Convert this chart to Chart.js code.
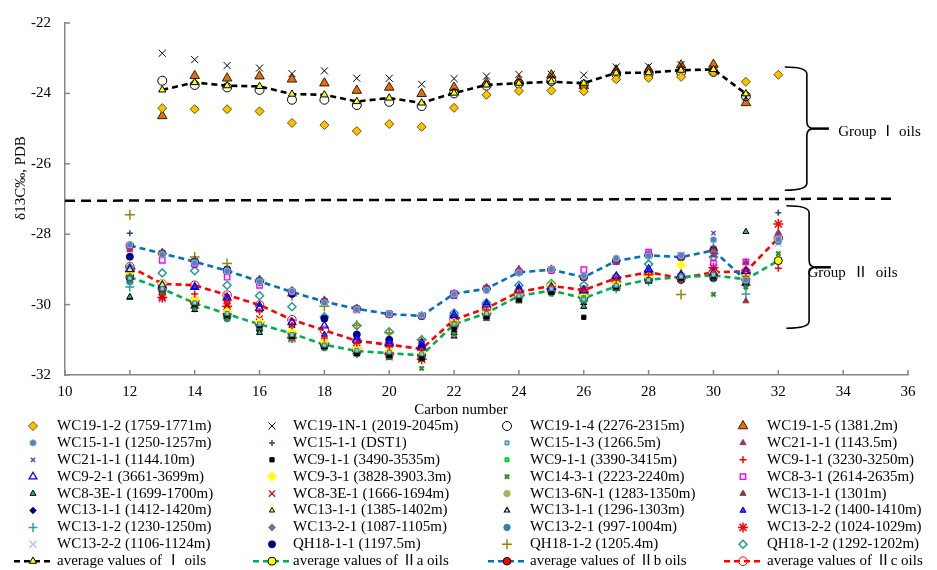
<!DOCTYPE html>
<html>
<head>
<meta charset="utf-8">
<script src="https://cdn.jsdelivr.net/npm/chart.js@4.4.0/dist/chart.umd.min.js"></script>
<style>
  html, body { margin: 0; padding: 0; background: #fff; }
</style>
</head>
<body>
<canvas id="carbonChart" width="937" height="570"></canvas>
<script>
// carbon numbers on the x axis
const carbonNumbers = [12, 13, 14, 15, 16, 17, 18, 19, 20, 21, 22, 23, 24, 25, 26, 27, 28, 29, 30, 31, 32];
const xTicks = [10, 12, 14, 16, 18, 20, 22, 24, 26, 28, 30, 32, 34, 36];
const yTicks = [-32, -30, -28, -26, -24, -22];

// Group I oils
const wc19_1_2   = [null, -24.42, -24.45, -24.45, -24.51, -24.84, -24.90, -25.07, -24.87, -24.95, -24.41, -24.04, -23.93, -23.92, -23.94, -23.60, -23.56, -23.53, -23.40, -23.67, -23.47];
const wc19_1n_1  = [null, -22.86, -23.04, -23.21, -23.28, -23.44, -23.36, -23.57, -23.57, -23.74, -23.58, -23.51, -23.46, -23.46, -23.48, -23.25, -23.23, -23.18, -23.30, -24.10, null];
const wc19_1_4   = [null, -23.64, -23.76, -23.83, -23.90, -24.18, -24.18, -24.33, -24.24, -24.36, -24.00, -23.78, -23.72, -23.65, -23.75, -23.45, -23.45, -23.40, -23.39, -24.08, null];
const wc19_1_5   = [null, -24.64, -23.50, -23.57, -23.51, -23.60, -23.71, -23.92, -23.83, -24.01, -23.83, -23.70, -23.64, -23.48, -23.79, -23.34, -23.32, -23.20, -23.18, -24.27, null];

// Group II oils
const wc15_1_1a  = [-28.30, -28.58, -28.82, -29.05, -29.35, -29.62, -29.95, -30.14, -30.26, -30.30, -29.70, -29.60, -29.10, -29.00, -29.18, -28.68, -28.62, -28.60, -28.16, -29.30, -28.15];
const wc15_1_1b  = [-27.97, -28.50, -28.70, -29.00, -29.25, -29.62, -29.90, -30.10, -30.28, -30.33, -29.70, -29.55, -29.10, -29.00, -29.20, -28.75, -28.60, -28.62, -28.35, -29.35, -27.39];
const wc15_1_3   = [-29.25, -29.55, -29.95, -30.25, -30.55, -30.85, -31.15, -31.30, -31.35, -31.40, -30.55, -30.25, -29.75, -29.55, -29.85, -29.45, -29.30, -29.20, -29.15, -29.30, null];
const wc21_1_1a  = [-28.45, -28.50, -28.80, -29.00, -29.30, -29.60, -29.85, -30.10, -30.30, -30.35, -29.78, -29.50, -28.98, -28.97, -29.25, -28.80, -28.62, -28.65, -28.60, -28.80, -27.95];
const wc21_1_1b  = [-28.40, -28.55, -28.80, -29.05, -29.35, -29.65, -29.90, -30.13, -30.27, -30.32, -29.72, -29.55, -29.05, -29.00, -29.25, -28.80, -28.60, -28.68, -27.97, -29.35, null];
const wc9_1_1a   = [-29.25, -29.55, -30.00, -30.30, -30.60, -30.90, -31.20, -31.40, -31.45, -31.50, -30.70, -30.35, -29.85, -29.65, -30.36, -29.50, -29.30, -29.25, -29.20, -29.35, null];
const wc9_1_1b   = [-29.20, -29.55, -30.00, -30.30, -30.60, -30.85, -31.15, -31.35, -31.40, -31.45, -30.60, -30.30, -29.80, -29.60, -29.80, -29.50, -29.30, -29.20, -29.20, -29.30, null];
const wc9_1_1c   = [-29.20, -29.60, -29.70, -29.90, -30.20, -30.60, -30.95, -31.10, -31.20, -31.30, -30.50, -30.15, -29.65, -29.50, -29.60, -29.30, -29.15, -29.30, -29.10, -29.20, -28.97];
const wc9_2_1    = [-29.00, -29.45, -29.50, -29.80, -30.10, -30.50, -30.60, -31.00, -31.10, -31.20, -30.30, -30.00, -29.60, -29.50, -29.60, -29.20, -29.00, -29.15, -29.10, -29.05, null];
const wc9_3_1    = [-29.10, -29.40, -29.85, -30.20, -30.50, -30.75, -31.05, -31.25, -31.30, -31.35, -30.50, -30.20, -29.70, -29.45, -29.75, -29.40, -29.20, -28.88, -29.10, -29.20, null];
const wc14_3_1   = [-29.30, -29.65, -30.10, -30.40, -30.65, -30.95, -31.25, -31.40, -31.50, -31.81, -30.85, -30.40, -29.85, -29.70, -29.90, -29.55, -29.35, -29.30, -29.71, -29.50, -28.55];
const wc8_3_1    = [-28.35, -28.74, -28.85, -29.22, -29.45, -29.64, -29.92, -30.15, -30.28, -30.32, -29.68, -29.55, -29.08, -29.02, -29.01, -28.78, -28.51, -28.60, -28.82, -28.79, null];
const wc8_3e_1a  = [-29.78, -29.60, -30.05, -30.35, -30.80, -30.90, -31.20, -31.35, -31.45, -31.50, -30.80, -30.35, -29.90, -29.65, -30.06, -29.55, -29.35, -29.30, -29.25, -27.93, null];
const wc8_3e_1b  = [-29.10, -29.75, -29.95, -30.00, -30.40, -30.90, -31.15, -31.30, -31.45, -31.50, -30.70, -30.30, -29.80, -29.60, -29.70, -29.30, -29.20, -29.20, -29.05, -29.10, null];
const wc13_6n_1  = [-29.00, -29.50, -29.90, -30.20, -30.50, -30.80, -31.10, -31.30, -31.35, -31.40, -30.55, -30.20, -29.75, -29.55, -29.80, -29.45, -29.25, -29.20, -29.15, -29.30, null];
const wc13_1_1a  = [-29.15, -29.60, -30.00, -30.30, -30.60, -30.85, -31.15, -31.35, -31.40, -31.45, -30.60, -30.30, -29.80, -29.60, -29.85, -29.50, -29.30, -29.25, -29.20, -29.90, null];
const wc13_1_1b  = [-29.20, -29.50, -29.95, -30.25, -30.55, -30.80, -31.10, -31.30, -31.40, -31.45, -30.60, -30.25, -29.75, -29.60, -29.80, -29.50, -29.30, -29.20, -29.20, -29.35, null];
const wc13_1_1c  = [-29.20, -29.45, -29.90, -30.25, -30.55, -30.80, -31.10, -31.30, -31.35, -31.40, -30.50, -30.20, -29.75, -29.55, -29.80, -29.45, -29.25, -29.15, -29.15, -29.30, null];
const wc13_1_1d  = [-29.80, -29.65, -30.15, -30.30, -30.70, -30.90, -31.20, -31.40, -31.50, -31.55, -30.90, -30.40, -29.85, -29.65, -29.95, -29.55, -29.35, -29.30, -29.25, -29.40, null];
const wc13_1_2a  = [-29.10, -29.55, -29.50, -29.85, -30.00, -30.60, -30.85, -30.95, -31.05, -31.05, -30.35, -29.95, -29.50, -29.45, -29.55, -29.30, -29.05, -29.25, -29.15, -29.20, null];
const wc13_1_2b  = [-29.50, -29.60, -30.10, -30.35, -30.60, -30.90, -31.20, -31.40, -31.45, -31.50, -30.65, -30.30, -29.80, -29.65, -29.90, -29.55, -29.35, -29.25, -29.25, -29.70, null];
const wc13_2_1a  = [-28.38, -28.52, -28.75, -29.00, -29.28, -29.58, -29.90, -30.08, -30.26, -30.30, -29.72, -29.50, -29.05, -28.98, -29.20, -28.72, -28.55, -28.62, -28.50, -29.20, -28.05];
const wc13_2_1b  = [-29.35, -29.60, -30.05, -30.40, -30.70, -30.95, -31.20, -31.35, -31.45, -31.45, -30.60, -30.30, -29.80, -29.60, -29.85, -29.50, -29.30, -29.25, -29.25, -29.35, -28.20];
const wc13_2_2a  = [-29.05, -29.80, -29.90, -30.05, -30.50, -30.95, -31.10, -31.25, -31.40, -31.55, -30.60, -30.25, -29.70, -29.55, -29.65, -29.35, -29.15, -29.25, -28.95, -29.10, -27.71];
const wc13_2_2b  = [-29.30, -29.85, -30.00, -30.30, -30.65, -31.00, -31.20, -31.40, -31.50, -31.45, -30.70, -30.30, -29.80, -29.60, -29.85, -29.50, -29.30, -29.25, -29.20, -29.30, -28.25];
const qh18_1_1   = [-28.64, -29.44, -28.85, -29.00, -29.35, -29.70, -30.40, -30.85, -31.00, -31.20, -30.60, -30.20, -29.75, -29.55, -29.75, -29.40, -29.20, -29.30, -29.25, -29.40, null];
const qh18_1_2a  = [-27.45, -28.55, -28.65, -28.83, -29.30, -29.75, -30.05, -30.59, -30.80, -31.00, -30.30, -30.00, -29.60, -29.45, -29.70, -29.30, -29.10, -29.71, -29.20, -29.45, null];
const qh18_1_2b  = [-28.95, -29.10, -29.04, -29.45, -29.75, -30.06, -30.35, -30.60, -30.77, -31.00, -30.24, -29.95, -29.45, -29.40, -29.45, -29.25, -28.85, -29.20, -28.65, -29.15, null];

// average values
const avgGroupI   = [null, -23.90, -23.69, -23.78, -23.80, -24.02, -24.04, -24.23, -24.13, -24.27, -23.99, -23.76, -23.71, -23.67, -23.71, -23.42, -23.41, -23.34, -23.32, -24.01, null];
const avgGroupIIa = [-29.22, -29.55, -29.96, -30.27, -30.56, -30.82, -31.14, -31.32, -31.38, -31.44, -30.56, -30.24, -29.75, -29.60, -29.82, -29.48, -29.29, -29.22, -29.17, -29.28, -28.75];
const avgGroupIIb = [-28.32, -28.55, -28.78, -29.04, -29.34, -29.64, -29.92, -30.12, -30.27, -30.32, -29.69, -29.55, -29.08, -29.01, -29.22, -28.76, -28.60, -28.65, -28.46, -29.31, null];
const avgGroupIIc = [-28.92, -29.41, -29.45, -29.73, -30.01, -30.43, -30.73, -31.03, -31.14, -31.26, -30.43, -30.10, -29.64, -29.47, -29.59, -29.25, -29.08, -29.25, -29.08, -29.06, -28.11];

const dividerValue = -27.05;

// legend order = dataset order (4 per row)
const sampleNames = [
  'WC19-1-2 (1759-1771m)', 'WC19-1N-1 (2019-2045m)', 'WC19-1-4 (2276-2315m)', 'WC19-1-5 (1381.2m)',
  'WC15-1-1 (1250-1257m)', 'WC15-1-1 (DST1)', 'WC15-1-3 (1266.5m)', 'WC21-1-1 (1143.5m)',
  'WC21-1-1 (1144.10m)', 'WC9-1-1 (3490-3535m)', 'WC9-1-1 (3390-3415m)', 'WC9-1-1 (3230-3250m)',
  'WC9-2-1 (3661-3699m)', 'WC9-3-1 (3828-3903.3m)', 'WC14-3-1 (2223-2240m)', 'WC8-3-1 (2614-2635m)',
  'WC8-3E-1 (1699-1700m)', 'WC8-3E-1 (1666-1694m)', 'WC13-6N-1 (1283-1350m)', 'WC13-1-1 (1301m)',
  'WC13-1-1 (1412-1420m)', 'WC13-1-1 (1385-1402m)', 'WC13-1-1 (1296-1303m)', 'WC13-1-2 (1400-1410m)',
  'WC13-1-2 (1230-1250m)', 'WC13-2-1 (1087-1105m)', 'WC13-2-1 (997-1004m)', 'WC13-2-2 (1024-1029m)',
  'WC13-2-2 (1106-1124m)', 'QH18-1-1 (1197.5m)', 'QH18-1-2 (1205.4m)', 'QH18-1-2 (1292-1202m)'
];
const sampleSeries = [
  wc19_1_2, wc19_1n_1, wc19_1_4, wc19_1_5,
  wc15_1_1a, wc15_1_1b, wc15_1_3, wc21_1_1a,
  wc21_1_1b, wc9_1_1a, wc9_1_1b, wc9_1_1c,
  wc9_2_1, wc9_3_1, wc14_3_1, wc8_3_1,
  wc8_3e_1a, wc8_3e_1b, wc13_6n_1, wc13_1_1a,
  wc13_1_1b, wc13_1_1c, wc13_1_1d, wc13_1_2a,
  wc13_1_2b, wc13_2_1a, wc13_2_1b, wc13_2_2a,
  wc13_2_2b, qh18_1_1, qh18_1_2a, qh18_1_2b
];
const avgNames = ['average values of \u2160 oils', 'average values of \u2161a oils', 'average values of \u2161b oils', 'average values of \u2161c oils'];
const avgSeries = [avgGroupI, avgGroupIIa, avgGroupIIb, avgGroupIIc];

// marker styles: [pointStyle, radius, fill, border, borderWidth]
const sampleStyles = [
  ['rectRot', 4.5, '#FFC000', '#6B5200', 1], ['crossRot', 5, '#000', '#000', 1], ['circle', 4.5, 'rgba(255,255,255,0)', '#000', 1], ['triangle', 5.5, '#E46C0A', '#3A1E00', 1],
  ['circle', 3.2, '#4F81BD', '#95B3D7', 1], ['cross', 3, '#1F497D', '#1F497D', 1.5], ['rect', 2.8, '#93CDDD', '#31859C', 1], ['triangle', 3.5, '#993366', '#993366', 1],
  ['crossRot', 3, '#5050B0', '#5050B0', 1.5], ['rect', 3, '#000', '#000', 1], ['rect', 2.8, '#00FF00', '#00B050', 1], ['cross', 3.5, '#FF0000', '#FF0000', 1.5],
  ['triangle', 4.5, 'rgba(255,255,255,0)', '#0000FF', 1.3], ['rectRot', 4.5, '#FFFF00', '#FFFF00', 1], ['crossRot', 3, '#2E8B2E', '#2E8B2E', 2.2], ['rect', 3.8, 'rgba(255,255,255,0)', '#FF00FF', 1.4],
  ['triangle', 3.5, '#20B2AA', '#000', 1], ['crossRot', 4.5, '#C00000', '#C00000', 1.2], ['circle', 3.2, '#9BBB59', '#9BBB59', 1], ['triangle', 3.5, '#943634', '#943634', 1],
  ['rectRot', 3.2, '#000080', '#000080', 1], ['triangle', 3, '#FFFF00', '#000', 1], ['triangle', 3, 'rgba(255,255,255,0)', '#000', 1.2], ['triangle', 3.5, '#3333FF', '#0000CC', 1],
  ['cross', 4.5, '#31A0A0', '#31A0A0', 1.5], ['rectRot', 3.5, '#8064A2', '#8064A2', 1], ['circle', 3.2, '#31859C', '#31859C', 1], ['star', 5, '#FF0000', '#FF0000', 1.5],
  ['crossRot', 5, '#A6CAF0', '#A6CAF0', 1.5], ['circle', 3.5, '#000080', '#000080', 1], ['cross', 5, '#8C8C00', '#8C8C00', 1.5], ['rectRot', 4, 'rgba(255,255,255,0)', '#1F9A9A', 1.5]
];
// [line colour, dash, marker, radius, fill, border, draw order]
const avgStyles = [
  ['#000000', [6, 4], 'triangle', 4.2, '#FFFF00', '#000', 0],
  ['#00B050', [6, 4], 'circle', 4, '#FFFF00', '#000', 2],
  ['#0070C0', [6, 4], 'circle', 3.8, '#FF0000', '#000', 2],
  ['#FF0000', [6, 4], 'circle', 4.3, 'rgba(255,255,255,0)', '#FF0000', 2]
];

const serif = '"Liberation Serif", "Times New Roman", "Noto Sans CJK SC", serif';
Chart.defaults.font.family = serif;
Chart.defaults.font.size = 15;
Chart.defaults.color = '#000';

function toPoints(vals) {
  return carbonNumbers.map((c, i) => ({ x: c, y: vals[i] })).filter(p => p.y !== null);
}

const datasets = [];
sampleSeries.forEach((vals, i) => {
  const s = sampleStyles[i];
  datasets.push({
    label: sampleNames[i],
    data: toPoints(vals),
    showLine: false,
    pointStyle: s[0],
    pointRadius: s[1],
    pointBackgroundColor: s[2],
    pointBorderColor: s[3],
    pointBorderWidth: s[4],
    order: 1
  });
});
avgSeries.forEach((vals, i) => {
  const s = avgStyles[i];
  datasets.push({
    label: avgNames[i],
    data: toPoints(vals),
    showLine: true,
    borderColor: s[0],
    borderDash: s[1],
    borderWidth: 2.6,
    tension: 0,
    fill: false,
    pointStyle: s[2],
    pointRadius: s[3],
    pointBackgroundColor: s[4],
    pointBorderColor: s[5],
    pointBorderWidth: 1,
    order: s[6]
  });
});

function drawMarker(ctx, ds, x, y) {
  ctx.save();
  ctx.setLineDash([]);
  ctx.fillStyle = ds.pointBackgroundColor;
  ctx.strokeStyle = ds.pointBorderColor;
  ctx.lineWidth = ds.pointBorderWidth;
  Chart.helpers.drawPoint(ctx, { pointStyle: ds.pointStyle, radius: ds.pointRadius, rotation: 0, borderWidth: ds.pointBorderWidth }, x, y);
  ctx.restore();
}

function brace(ctx, x0, x1, x2, yTop, yMid, yBot) {
  const r = 7;
  ctx.lineWidth = 1.6;
  ctx.beginPath();
  ctx.moveTo(x0, yTop);
  ctx.quadraticCurveTo(x1, yTop, x1, yTop + r);
  ctx.lineTo(x1, yMid - r);
  ctx.quadraticCurveTo(x1, yMid, x1 + r, yMid);
  ctx.quadraticCurveTo(x1, yMid, x1, yMid + r);
  ctx.lineTo(x1, yBot - r);
  ctx.quadraticCurveTo(x1, yBot, x0, yBot);
  ctx.stroke();
  ctx.lineWidth = 2.5;
  ctx.beginPath();
  ctx.moveTo(x1 + r - 1, yMid);
  ctx.lineTo(x2, yMid);
  ctx.stroke();
}

const decorPlugin = {
  id: 'decor',
  afterDraw(chart) {
    const { ctx, chartArea } = chart;
    const xs = chart.scales.x, ys = chart.scales.y;
    ctx.save();

    // inward tick marks
    ctx.strokeStyle = '#868686';
    ctx.lineWidth = 1.5;
    ys.ticks.forEach(t => {
      const py = ys.getPixelForValue(t.value);
      ctx.beginPath(); ctx.moveTo(chartArea.left, py); ctx.lineTo(chartArea.left + 5, py); ctx.stroke();
    });
    xs.ticks.forEach(t => {
      const px = xs.getPixelForValue(t.value);
      ctx.beginPath(); ctx.moveTo(px, chartArea.bottom); ctx.lineTo(px, chartArea.bottom - 5); ctx.stroke();
    });

    // divider between the two oil groups
    ctx.strokeStyle = '#000';
    ctx.lineWidth = 2.5;
    ctx.setLineDash([10, 6]);
    ctx.beginPath();
    ctx.moveTo(chartArea.left, ys.getPixelForValue(dividerValue));
    ctx.lineTo(xs.getPixelForValue(35.5), ys.getPixelForValue(dividerValue + 0.06));
    ctx.stroke();
    ctx.setLineDash([]);

    // braces
    brace(ctx, xs.getPixelForValue(32.2), xs.getPixelForValue(32.88), xs.getPixelForValue(33.56),
      ys.getPixelForValue(-23.25), ys.getPixelForValue(-25.0), ys.getPixelForValue(-26.75));
    brace(ctx, xs.getPixelForValue(32.25), xs.getPixelForValue(32.95), xs.getPixelForValue(33.62),
      ys.getPixelForValue(-27.19), ys.getPixelForValue(-28.94), ys.getPixelForValue(-30.67));

    ctx.fillStyle = '#000';
    ctx.font = '15px ' + serif;
    ctx.textBaseline = 'middle';
    ctx.textAlign = 'left';
    ctx.fillText('Group \u2160 oils', xs.getPixelForValue(33.85), ys.getPixelForValue(-25.1));
    ctx.fillText('Group  \u2161  oils', xs.getPixelForValue(32.9), ys.getPixelForValue(-29.1));

    // axis titles
    ctx.textAlign = 'center';
    ctx.fillText('Carbon number', 461, 410);
    ctx.save();
    ctx.translate(21, 178);
    ctx.rotate(-Math.PI / 2);
    ctx.fillText('\u03b413C\u2030, PDB', 0, 0);
    ctx.restore();

    // legend, 4 columns
    const colMarker = [33, 272, 507, 743];
    const colText = [57, 293, 530, 767];
    const row0 = 426, rowGap = 16.9;
    ctx.textAlign = 'left';
    chart.data.datasets.forEach((ds, i) => {
      const col = i % 4, row = Math.floor(i / 4);
      const y = row0 + row * rowGap;
      const mx = colMarker[col];
      if (ds.showLine) {
        ctx.save();
        ctx.strokeStyle = ds.borderColor;
        ctx.lineWidth = 2.4;
        ctx.setLineDash([6, 4]);
        ctx.beginPath(); ctx.moveTo(mx - 19, y); ctx.lineTo(mx + 19, y); ctx.stroke();
        ctx.restore();
      }
      drawMarker(ctx, ds, mx, y);
      ctx.fillStyle = '#000';
      ctx.fillText(ds.label, colText[col], y);
    });
    ctx.restore();
  }
};

new Chart(document.getElementById('carbonChart').getContext('2d'), {
  type: 'line',
  data: { datasets: datasets },
  options: {
    responsive: false,
    animation: false,
    layout: { padding: { left: 0, top: 15, right: 29, bottom: 160 } },
    plugins: {
      legend: { display: false },
      tooltip: { enabled: false }
    },
    scales: {
      x: {
        type: 'linear',
        min: 10,
        max: 36,
        afterFit: scale => { scale.height = 35; },
        afterBuildTicks: scale => { scale.ticks = xTicks.map(v => ({ value: v })); },
        grid: { display: true, drawOnChartArea: false, drawTicks: false },
        border: { display: true, color: '#868686', width: 1.5 },
        ticks: { padding: 8, color: '#000', font: { size: 15 } }
      },
      y: {
        min: -32,
        max: -22,
        afterFit: scale => { scale.width = 65; },
        afterBuildTicks: scale => { scale.ticks = yTicks.map(v => ({ value: v })); },
        grid: { display: true, drawOnChartArea: false, drawTicks: false },
        border: { display: true, color: '#868686', width: 1.5 },
        ticks: { padding: 14, color: '#000', font: { size: 15 } }
      }
    }
  },
  plugins: [decorPlugin]
});
</script>
</body>
</html>
